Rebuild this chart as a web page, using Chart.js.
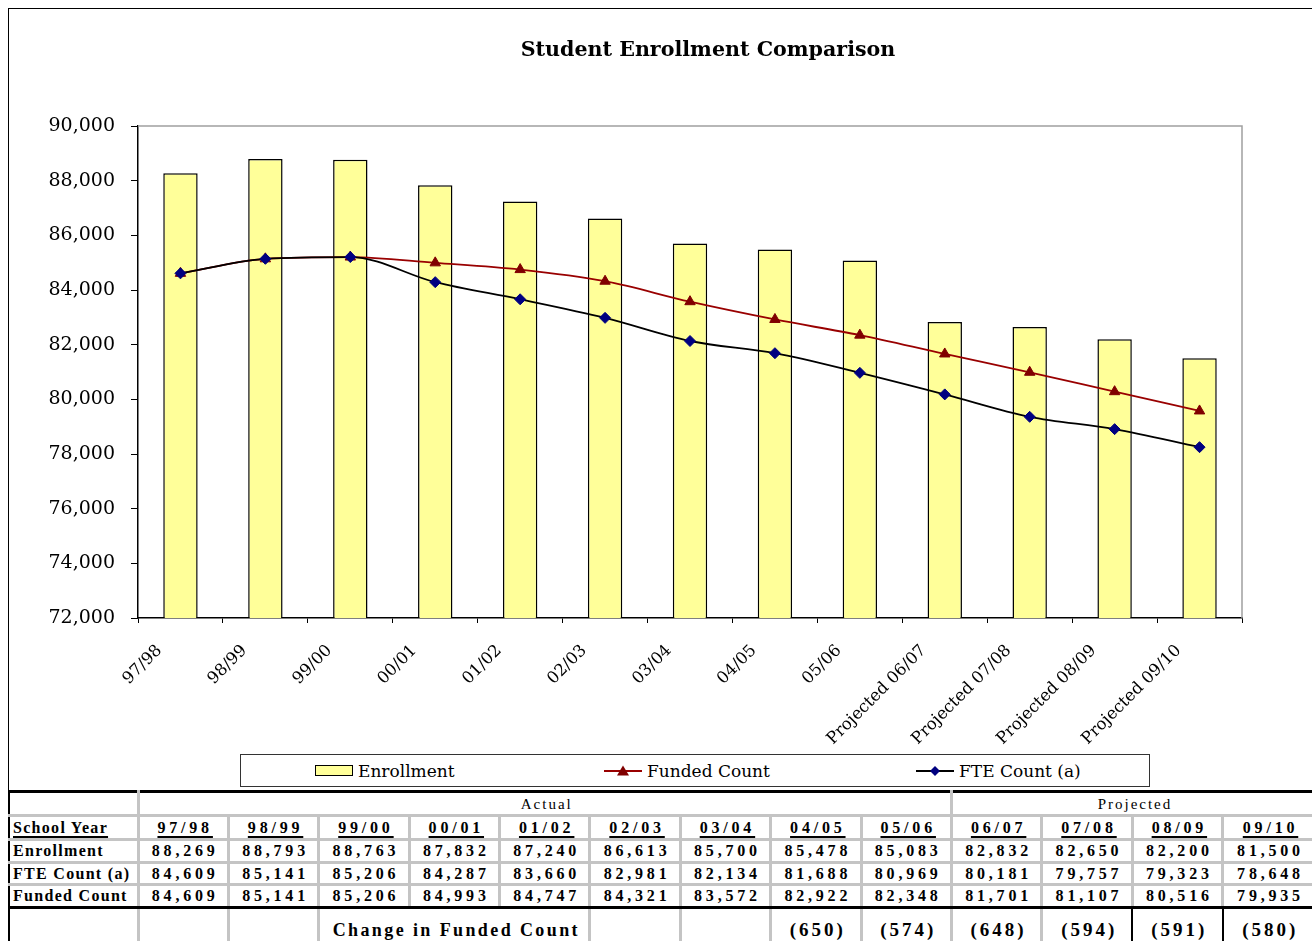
<!DOCTYPE html>
<html>
<head>
<meta charset="utf-8">
<script src="https://cdn.jsdelivr.net/npm/chart.js@4.4.1/dist/chart.umd.min.js"></script>
<style>
  body { margin: 0; width: 1312px; height: 941px; overflow: hidden; position: relative; background: #fff; font-family: "DejaVu Serif", serif; }
  #frame { position: absolute; left: 8px; top: 8px; width: 1304px; height: 783px; border-left: 1px solid #000; border-top: 1px solid #000; box-sizing: border-box; }
  #title { position: absolute; left: 408px; top: 37px; width: 600px; text-align: center; font: bold 20.6px/24px "DejaVu Serif", serif; color: #000; }
  #chartBox { position: absolute; left: 0; top: 0; width: 1312px; height: 790px; }
  #legend { position: absolute; left: 240px; top: 754px; width: 910px; height: 33px; border: 1px solid #333; box-sizing: border-box; background: #fff; font: 17px "DejaVu Serif", serif; color: #000; }
  .legItem { position: absolute; top: 0; height: 31px; display: flex; align-items: center; white-space: nowrap; }
  .legItem svg { margin-right: 5px; }

  #dataTable { position: absolute; left: 8px; top: 790px; width: 1304px; border-collapse: collapse; table-layout: fixed; font-family: "Liberation Serif", serif; color: #000; }
  #dataTable td { border: 3px solid #c4c4c4; padding: 0; text-align: center; white-space: nowrap; overflow: hidden; font-weight: bold; font-size: 16px; letter-spacing: 3.8px; padding-left: 4px; line-height: 18px; }
  #dataTable td:last-child { border-right: none; }
  #dataTable td.lab { text-align: left; padding-left: 3px; letter-spacing: 1.3px; }
  #dataTable td.hdr { font-weight: normal; font-size: 15px; letter-spacing: 2px; border-bottom: 2px solid #000; }
  #dataTable tr.top td { border-top: 3px solid #000; }
  #dataTable td.first { border-left: 2px solid #000; }
  #dataTable td.split { border-left: 3px solid #000; }
  #dataTable tr.last td { border-bottom: 3px solid #000; }
  #dataTable td.yr span { text-decoration: underline; text-decoration-thickness: 2px; text-underline-offset: 3px; }
  #dataTable tr.change td { vertical-align: top; padding-top: 12px; font-size: 19px; letter-spacing: 3px; }
  #dataTable tr.change td.caption { font-size: 18px; letter-spacing: 2.4px; }
  #dataTable tr.change td.proj { border-left: 2px solid #000; border-right: 2px solid #000; }
  #dataTable tr.change td.split { border-left: 3px solid #000; }
  #dataTable tr.change td:last-child { border-right: none; }
</style>
</head>
<body>
<div id="frame"></div>
<div id="chartBox"><canvas id="enrollChart"></canvas></div>
<div id="title">Student Enrollment Comparison</div>
<div id="legend"></div>
<table id="dataTable"></table>

<script>
// x軸ラベル (グラフ用)
const xLabels = ["97/98", "98/99", "99/00", "00/01", "01/02", "02/03", "03/04", "04/05", "05/06",
  "Projected 06/07", "Projected 07/08", "Projected 08/09", "Projected 09/10"];

// グラフに描かれている値
const enrollment = [88269, 88793, 88763, 87832, 87240, 86613, 85700, 85478, 85083, 82832, 82650, 82200, 81500];
const fundedCount = [84609, 85141, 85206, 84993, 84747, 84321, 83572, 82922, 82348, 81660, 80990, 80280, 79575];
const fteCount = [84609, 85141, 85206, 84287, 83660, 82981, 82134, 81688, 80969, 80181, 79360, 78910, 78250];

// 表の値
const schoolYears = ["97/98", "98/99", "99/00", "00/01", "01/02", "02/03", "03/04", "04/05", "05/06",
  "06/07", "07/08", "08/09", "09/10"];
const tableEnrollment = [88269, 88793, 88763, 87832, 87240, 86613, 85700, 85478, 85083, 82832, 82650, 82200, 81500];
const tableFte = [84609, 85141, 85206, 84287, 83660, 82981, 82134, 81688, 80969, 80181, 79757, 79323, 78648];
const tableFunded = [84609, 85141, 85206, 84993, 84747, 84321, 83572, 82922, 82348, 81701, 81107, 80516, 79935];
const fundedChange = [null, null, null, null, null, null, null, -650, -574, -648, -594, -591, -580];
const actualCount = 9; // 05/06 まで実績

const FONT = "DejaVu Serif";

// プロット枠の上と右の灰色の線
const plotFrame = {
  id: "plotFrame",
  beforeDatasetsDraw(chart) {
    const { ctx, chartArea: a } = chart;
    ctx.save();
    ctx.strokeStyle = "#a0a0a0";
    ctx.lineWidth = 1.5;
    ctx.beginPath();
    ctx.moveTo(a.left, a.top);
    ctx.lineTo(a.right, a.top);
    ctx.lineTo(a.right, a.bottom);
    ctx.stroke();
    ctx.restore();
  }
};

function drawChart() {
  const ctx = document.getElementById("enrollChart");
  new Chart(ctx, {
    type: "bar",
    data: {
      labels: xLabels,
      datasets: [
        {
          type: "bar",
          label: "Enrollment",
          data: enrollment,
          backgroundColor: "#FFFF99",
          borderColor: "#000",
          borderWidth: 1.5,
          barPercentage: 0.405,
          categoryPercentage: 1,
          order: 3,
        },
        {
          type: "line",
          label: "Funded Count",
          data: fundedCount,
          borderColor: "#990000",
          borderWidth: 1.8,
          cubicInterpolationMode: "monotone",
          pointStyle: "triangle",
          pointRadius: 6,
          pointBackgroundColor: "#800000",
          pointBorderColor: "#800000",
          pointBorderWidth: 1,
          order: 2,
        },
        {
          type: "line",
          label: "FTE Count (a)",
          data: fteCount,
          borderColor: "#000",
          borderWidth: 1.8,
          cubicInterpolationMode: "monotone",
          pointStyle: "rectRot",
          pointRadius: 5.5,
          pointBackgroundColor: "#000080",
          pointBorderColor: "#000080",
          pointBorderWidth: 1,
          order: 1,
        },
      ]
    },
    options: {
      responsive: true,
      maintainAspectRatio: false,
      animation: false,
      layout: { padding: { top: 126, right: 70, bottom: 42, left: 0 } },
      plugins: {
        legend: { display: false },
        title: { display: false },
        tooltip: { enabled: false },
      },
      scales: {
        x: {
          grid: { drawOnChartArea: false, tickLength: 5, color: "#000", offset: true },
          border: { color: "#000", width: 1.5 },
          ticks: {
            autoSkip: false,
            minRotation: 45,
            maxRotation: 45,
            color: "#000",
            padding: 18,
            labelOffset: -21,
            font: { family: FONT, size: 16.5 },
          },
          afterFit: (scale) => { scale.height = 130; },
        },
        y: {
          min: 72000,
          max: 90000,
          grid: { drawOnChartArea: false, tickLength: 7, color: "#000" },
          border: { color: "#000", width: 1.5 },
          ticks: {
            stepSize: 2000,
            color: "#000",
            padding: 16,
            font: { family: FONT, size: 19 },
            callback: (v) => v.toLocaleString("en-US"),
          },
          afterFit: (scale) => { scale.width = 138; },
        }
      }
    },
    plugins: [plotFrame]
  });
}

// 凡例 (枠付き)
function buildLegend() {
  const legend = document.getElementById("legend");
  const items = [
    { left: 74, text: "Enrollment",
      svg: '<svg width="38" height="12"><rect x="0.5" y="0.5" width="37" height="10" fill="#FFFF99" stroke="#000"/></svg>' },
    { left: 363, text: "Funded Count",
      svg: '<svg width="38" height="14"><line x1="0" y1="7" x2="38" y2="7" stroke="#990000" stroke-width="1.8"/><polygon points="19,1.5 25,11.5 13,11.5" fill="#800000"/></svg>' },
    { left: 675, text: "FTE Count (a)",
      svg: '<svg width="38" height="14"><line x1="0" y1="7" x2="38" y2="7" stroke="#000" stroke-width="1.8"/><polygon points="19,2 24,7 19,12 14,7" fill="#000080"/></svg>' },
  ];
  items.forEach(it => {
    const div = document.createElement("div");
    div.className = "legItem";
    div.style.left = it.left + "px";
    div.innerHTML = it.svg + "<span>" + it.text + "</span>";
    legend.appendChild(div);
  });
}

function fmt(n) {
  return n.toLocaleString("en-US");
}

// 下の表を作成
function buildTable() {
  const table = document.getElementById("dataTable");
  let html = "<colgroup><col style='width:129px'>";
  schoolYears.forEach(() => { html += "<col style='width:90.38px'>"; });
  html += "</colgroup>";

  html += "<tr class='top' style='height:24px'><td class='first'></td>";
  html += "<td class='hdr' colspan='" + actualCount + "'>Actual</td>";
  html += "<td class='hdr split' colspan='" + (schoolYears.length - actualCount) + "'>Projected</td></tr>";

  const rows = [
    { label: "School Year", values: schoolYears, yr: true, h: 24 },
    { label: "Enrollment", values: tableEnrollment.map(fmt), h: 23 },
    { label: "FTE Count (a)", values: tableFte.map(fmt), h: 22 },
    { label: "Funded Count", values: tableFunded.map(fmt), h: 23, last: true },
  ];
  rows.forEach(r => {
    html += "<tr" + (r.last ? " class='last'" : "") + " style='height:" + r.h + "px'>";
    html += "<td class='lab first" + (r.yr ? " yr" : "") + "'>" + (r.yr ? "<span>" + r.label + "</span>" : r.label) + "</td>";
    r.values.forEach((v, i) => {
      const cls = [];
      if (r.yr) cls.push("yr");
      if (i === actualCount) cls.push("split");
      html += "<td class='" + cls.join(" ") + "'>" + (r.yr ? "<span>" + v + "</span>" : v) + "</td>";
    });
    html += "</tr>";
  });

  // Change in Funded Count の行
  html += "<tr class='change' style='height:48px'><td class='first'></td><td></td><td></td>";
  html += "<td class='caption' colspan='3'>Change in Funded Count</td>";
  for (let i = 5; i < schoolYears.length; i++) {
    const v = fundedChange[i];
    const cls = [];
    if (i === actualCount) cls.push("split");
    if (i > actualCount) cls.push("proj");
    html += "<td class='" + cls.join(" ") + "'>" + (v === null ? "" : "(" + fmt(Math.abs(v)) + ")") + "</td>";
  }
  html += "</tr>";
  table.innerHTML = html;
}

drawChart();
buildLegend();
buildTable();
</script>
</body>
</html>
